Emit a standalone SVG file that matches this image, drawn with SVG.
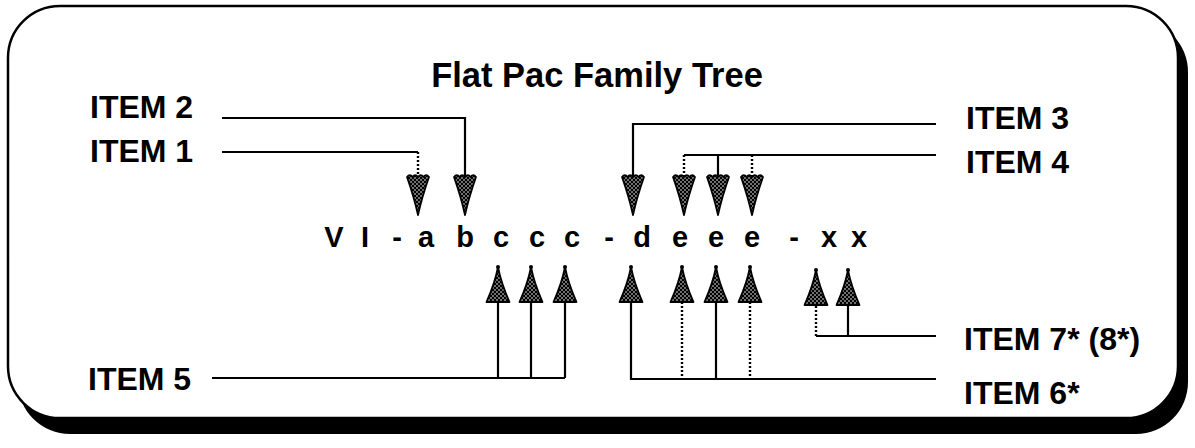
<svg xmlns="http://www.w3.org/2000/svg" width="1195" height="448" viewBox="0 0 1195 448">
  <defs>
    <!-- halftone fill used by the arrowheads -->
    <pattern id="dots" width="4" height="4" patternUnits="userSpaceOnUse">
      <rect width="4" height="4" fill="#000"/>
      <circle cx="1" cy="1" r="0.8" fill="#fff"/>
      <circle cx="3" cy="3" r="0.8" fill="#fff"/>
    </pattern>
    <!-- downward arrowhead: scalloped top at y=0, tip at y=38 -->
    <g id="down">
      <path d="M-11,0 q2.75,-3.5 5.5,0 q2.75,-3.5 5.5,0 q2.75,-3.5 5.5,0 q2.75,-3.5 5.5,0 Q4,20 0,38 Q-4,20 -11,0 Z" fill="url(#dots)" stroke="#000" stroke-width="1.8" stroke-linejoin="round"/>
    </g>
    <!-- upward arrowhead: knobbed tip at y=0, flat base at y=37 -->
    <g id="up">
      <circle cx="0" cy="2" r="2" fill="#000"/>
      <path d="M0,2 Q3,18 11.5,37 L-11.5,37 Q-3,18 0,2 Z" fill="url(#dots)" stroke="#000" stroke-width="1.8" stroke-linejoin="round"/>
    </g>
  </defs>
  <style>
    .lbl { font-family: "Liberation Sans", Arial, sans-serif; font-weight: bold; font-size: 32px; fill: #000; }
    .title { font-family: "Liberation Sans", Arial, sans-serif; font-weight: bold; font-size: 34.5px; fill: #000; }
    .ch { font-family: "Liberation Sans", Arial, sans-serif; font-weight: bold; font-size: 29px; fill: #000; text-anchor: middle; }
    .ln { fill: none; stroke: #000; stroke-width: 2.2; }
    .dot { fill: none; stroke: #000; stroke-width: 2.4; stroke-dasharray: 2 2; }
  </style>

  <!-- frame with drop shadow -->
  <g id="frame">
    <rect x="18" y="20" width="1170" height="414" rx="52" ry="52" fill="#000"/>
    <rect x="8" y="6" width="1170" height="412" rx="52" ry="52" fill="#fff" stroke="#000" stroke-width="2.5"/>
  </g>

  <g id="title">
    <text class="title" x="597" y="87" text-anchor="middle">Flat Pac Family Tree</text>
  </g>

  <!-- part-number string -->
  <g id="code">
    <text class="ch" x="334" y="247">V</text>
    <text class="ch" x="365" y="247">I</text>
    <text class="ch" x="397" y="247">-</text>
    <text class="ch" x="426" y="247">a</text>
    <text class="ch" x="465" y="247">b</text>
    <text class="ch" x="501" y="247">c</text>
    <text class="ch" x="537" y="247">c</text>
    <text class="ch" x="572" y="247">c</text>
    <text class="ch" x="609" y="247">-</text>
    <text class="ch" x="642" y="247">d</text>
    <text class="ch" x="680" y="247">e</text>
    <text class="ch" x="716" y="247">e</text>
    <text class="ch" x="752" y="247">e</text>
    <text class="ch" x="794" y="247">-</text>
    <text class="ch" x="829" y="247">x</text>
    <text class="ch" x="859" y="247">x</text>
  </g>

  <g id="item1"><text class="lbl" x="90" y="162">ITEM 1</text></g>
  <g id="item2"><text class="lbl" x="90" y="118">ITEM 2</text></g>
  <g id="item3"><text class="lbl" x="966" y="129">ITEM 3</text></g>
  <g id="item4"><text class="lbl" x="966" y="173">ITEM 4</text></g>
  <g id="item5"><text class="lbl" x="88" y="390">ITEM 5</text></g>
  <g id="item6"><text class="lbl" x="964" y="404">ITEM 6*</text></g>
  <g id="item7"><text class="lbl" x="964" y="350">ITEM 7* (8*)</text></g>

  <g id="connectors">
    <!-- ITEM 2 -> b -->
    <path class="ln" d="M222,118 H465 V178"/>
    <!-- ITEM 1 -> a -->
    <path class="ln" d="M222,152 H418"/>
    <path class="dot" d="M418,152 V178"/>
    <!-- ITEM 3 -> d -->
    <path class="ln" d="M936,124 H633 V178"/>
    <!-- ITEM 4 -> e e e -->
    <path class="ln" d="M936,155 H684"/>
    <path class="dot" d="M684,155 V178"/>
    <path class="ln" d="M718,155 V178"/>
    <path class="dot" d="M752,155 V178"/>
    <!-- ITEM 5 -> c c c -->
    <path class="ln" d="M212,378 H565"/>
    <path class="ln" d="M498,302 V378"/>
    <path class="ln" d="M531,302 V378"/>
    <path class="ln" d="M565,302 V378"/>
    <!-- ITEM 6* -> d e e e -->
    <path class="ln" d="M631,302 V379 H936"/>
    <path class="dot" d="M682,302 V379"/>
    <path class="ln" d="M716,302 V379"/>
    <path class="dot" d="M750,302 V379"/>
    <!-- ITEM 7* -> x x -->
    <path class="ln" d="M816,336 H936"/>
    <path class="dot" d="M816,302 V336"/>
    <path class="ln" d="M848,302 V336"/>

    <!-- arrowheads into the string -->
    <use href="#down" x="418" y="177"/>
    <use href="#down" x="465" y="177"/>
    <use href="#down" x="633" y="177"/>
    <use href="#down" x="684" y="177"/>
    <use href="#down" x="718" y="177"/>
    <use href="#down" x="752" y="177"/>

    <use href="#up" x="498" y="265"/>
    <use href="#up" x="531" y="265"/>
    <use href="#up" x="565" y="265"/>
    <use href="#up" x="631" y="265"/>
    <use href="#up" x="682" y="265"/>
    <use href="#up" x="716" y="265"/>
    <use href="#up" x="750" y="265"/>
    <use href="#up" x="816" y="268"/>
    <use href="#up" x="848" y="268"/>
  </g>
</svg>
